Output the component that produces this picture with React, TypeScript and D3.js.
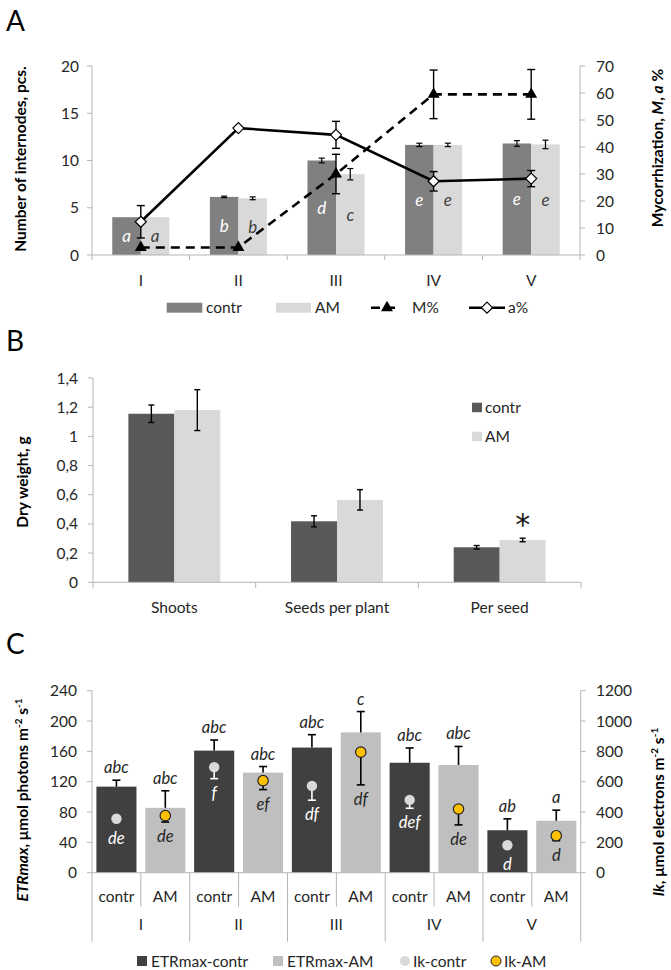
import React from "react";
import * as d3 from "d3";

// ---------- Panel A data ----------
const stages = ["I", "II", "III", "IV", "V"];
const treatments = ["contr", "AM"];
const internodesContr = [4.0, 6.15, 10.0, 11.65, 11.8];
const internodesContrErr = [0, 0.08, 0.25, 0.18, 0.3];
const internodesAM = [4.0, 6.0, 8.55, 11.65, 11.7];
const internodesAMErr = [0, 0.15, 0.6, 0.18, 0.45];
const lettersContrA = ["a", "b", "d", "e", "e"];
const lettersAMA = ["a", "b", "c", "e", "e"];
const mPct = [2.8, 2.8, 30, 59.5, 59.5];
const mPctErr = [0, 0, 7.3, 9, 9.2];
const aPct = [12.3, 47, 44.5, 27.3, 28.3];
const aPctErr = [6, 0, 5, 3.6, 3];
const ticksALeft = [0, 5, 10, 15, 20];
const ticksARight = [0, 10, 20, 30, 40, 50, 60, 70];

// ---------- Panel B data ----------
const organs = ["Shoots", "Seeds per plant", "Per seed"];
const dryContr = [1.155, 0.418, 0.24];
const dryContrErr = [0.06, 0.038, 0.012];
const dryAM = [1.18, 0.565, 0.29];
const dryAMErr = [0.14, 0.07, 0.012];
const drySignif = ["", "", "*"];
const ticksB = [0, 0.2, 0.4, 0.6, 0.8, 1.0, 1.2, 1.4];

// ---------- Panel C data ----------
const etrContr = [113.5, 161, 165, 145, 56];
const etrContrErr = [8.5, 14, 17, 19.5, 15];
const etrAM = [85.5, 132, 185, 142, 68.5];
const etrAMErr = [22.5, 8, 27.5, 24.5, 14];
const ikContr = [356, 696, 572, 480, 181];
const ikContrErr = [0, 76, 94, 55, 0];
const ikAM = [376, 607, 795, 420, 244];
const ikAMErr = [42, 59, 216, 105, 33];
const etrLettersContr = ["abc", "abc", "abc", "abc", "ab"];
const etrLettersAM = ["abc", "abc", "c", "abc", "a"];
const ikLettersContr = ["de", "f", "df", "def", "d"];
const ikLettersAM = ["de", "ef", "df", "de", "d"];
const ticksCLeft = [0, 40, 80, 120, 160, 200, 240];
const ticksCRight = [0, 200, 400, 600, 800, 1000, 1200];

const FONT = "Lato, 'Open Sans', sans-serif";
const AXIS = "#b5b5b5";
const TXT = "#262626";
const FS = 15.5;

function ErrBar({ x, y1, y2, w = 7, color = "#000", sw = 1.3 }: any) {
  return (
    <g stroke={color} strokeWidth={sw}>
      <line x1={x} x2={x} y1={y1} y2={y2} />
      <line x1={x - w / 2} x2={x + w / 2} y1={y1} y2={y1} />
      <line x1={x - w / 2} x2={x + w / 2} y1={y2} y2={y2} />
    </g>
  );
}

function ErrOne({ x, y0, y1, w = 7, color = "#000", sw = 1.3 }: any) {
  return (
    <g stroke={color} strokeWidth={sw}>
      <line x1={x} x2={x} y1={y0} y2={y1} />
      <line x1={x - w / 2} x2={x + w / 2} y1={y1} y2={y1} />
    </g>
  );
}

const diamond = "M0,-5.5L5.5,0L0,5.5L-5.5,0Z";

function PanelA() {
  const x = d3.scaleBand().domain(stages).range([92, 580]).padding(0);
  const bw = x.bandwidth();
  const xi = d3.scaleBand().domain(treatments).range([0, bw]).paddingInner(0).paddingOuter(0.71);
  const y = d3.scaleLinear().domain([0, 20]).range([255, 66]);
  const y2 = d3.scaleLinear().domain([0, 70]).range([255, 66]);
  const cx = (i: number) => (x(stages[i]) as number) + bw / 2;
  const line = d3.line<number>().x((_, i) => cx(i)).y((d) => y2(d));
  const tri = d3.symbol(d3.symbolTriangle, 62)() as string;
  const series = [
    { vals: internodesContr, errs: internodesContrErr, key: "contr", fill: "#808080", letters: lettersContrA, lc: "#ffffff" },
    { vals: internodesAM, errs: internodesAMErr, key: "AM", fill: "#d9d9d9", letters: lettersAMA, lc: "#404040" },
  ];
  const bounds = [...stages.map((s) => x(s) as number), 580];
  return (
    <g fontFamily={FONT}>
      <text x={6} y={31} fontSize={28} fill="#000">A</text>
      {series.map((s) =>
        s.vals.map((v, i) => {
          const bx = (x(stages[i]) as number) + (xi(s.key) as number);
          return (
            <g key={s.key + i}>
              <rect x={bx} y={y(v)} width={xi.bandwidth()} height={y(0) - y(v)} fill={s.fill} />
              {s.errs[i] > 0 && (
                <ErrBar x={bx + xi.bandwidth() / 2} y1={y(v + s.errs[i])} y2={y(v - s.errs[i])} w={6} sw={1.2} />
              )}
              <text x={bx + xi.bandwidth() / 2} y={y(v / 2) + 6} textAnchor="middle" fontStyle="italic" fontSize={17} fill={s.lc}>
                {s.letters[i]}
              </text>
            </g>
          );
        })
      )}
      <line x1={92} x2={580} y1={255} y2={255} stroke={AXIS} />
      {bounds.map((b, i) => (
        <line key={i} x1={b} x2={b} y1={255} y2={260} stroke={AXIS} />
      ))}
      <line x1={92} x2={92} y1={66} y2={255} stroke={AXIS} />
      {ticksALeft.map((t) => (
        <g key={t}>
          <line x1={87} x2={92} y1={y(t)} y2={y(t)} stroke={AXIS} />
          <text x={79} y={y(t) + 5.5} textAnchor="end" fontSize={FS} fill={TXT}>{t}</text>
        </g>
      ))}
      <line x1={580} x2={580} y1={66} y2={255} stroke={AXIS} />
      {ticksARight.map((t) => (
        <g key={t}>
          <line x1={580} x2={585} y1={y2(t)} y2={y2(t)} stroke={AXIS} />
          <text x={596} y={y2(t) + 5.5} textAnchor="start" fontSize={FS} fill={TXT}>{t}</text>
        </g>
      ))}
      {stages.map((s, i) => (
        <text key={s} x={cx(i)} y={285.5} textAnchor="middle" fontSize={FS} fill={TXT}>{s}</text>
      ))}
      <path d={line(mPct) as string} fill="none" stroke="#000" strokeWidth={2.6} strokeDasharray="9,6" />
      {mPct.map((v, i) =>
        mPctErr[i] > 0 ? <ErrBar key={"me" + i} x={cx(i)} y1={y2(v + mPctErr[i])} y2={y2(v - mPctErr[i])} w={8} sw={1.4} /> : null
      )}
      {mPct.map((v, i) => (
        <path key={"mt" + i} d={tri} transform={`translate(${cx(i)},${y2(v)})`} fill="#000" />
      ))}
      <path d={line(aPct) as string} fill="none" stroke="#000" strokeWidth={2.6} />
      {aPct.map((v, i) =>
        aPctErr[i] > 0 ? <ErrBar key={"ae" + i} x={cx(i)} y1={y2(v + aPctErr[i])} y2={y2(v - aPctErr[i])} w={8} sw={1.4} /> : null
      )}
      {aPct.map((v, i) => (
        <path key={"ad" + i} d={diamond} transform={`translate(${cx(i)},${y2(v)})`} fill="#fff" stroke="#000" strokeWidth={1.2} />
      ))}
      <text transform="translate(26,159) rotate(-90)" textAnchor="middle" fontSize={15.5} fontWeight="bold" fill="#000">
        Number of internodes, pcs.
      </text>
      <text transform="translate(663,148) rotate(-90)" textAnchor="middle" fontSize={15.5} fontWeight="bold" fill="#000">
        Mycorrhization, <tspan fontStyle="italic">M</tspan>, <tspan fontStyle="italic">a</tspan> %
      </text>
      <g fontSize={FS} fill={TXT}>
        <rect x={166.7} y={302.7} width={35.6} height={10} fill="#808080" />
        <text x={206} y={313}>contr</text>
        <rect x={276} y={302.7} width={35} height={10} fill="#d9d9d9" />
        <text x={315} y={313}>AM</text>
        <line x1={371} x2={400} y1={307.7} y2={307.7} stroke="#000" strokeWidth={2.6} strokeDasharray="9,6" />
        <path d={tri} transform="translate(387,307.7)" fill="#000" />
        <text x={412} y={313}>M%</text>
        <line x1={469} x2={505} y1={307.7} y2={307.7} stroke="#000" strokeWidth={2.6} />
        <path d={diamond} transform="translate(487,307.7)" fill="#fff" stroke="#000" strokeWidth={1.2} />
        <text x={508} y={313}>a%</text>
      </g>
    </g>
  );
}

function PanelB() {
  const x = d3.scaleBand().domain(organs).range([93, 581]).padding(0);
  const bw = x.bandwidth();
  const xi = d3.scaleBand().domain(treatments).range([0, bw]).paddingInner(0).paddingOuter(0.77);
  const y = d3.scaleLinear().domain([0, 1.4]).range([582.3, 378]);
  const series = [
    { vals: dryContr, errs: dryContrErr, key: "contr", fill: "#595959" },
    { vals: dryAM, errs: dryAMErr, key: "AM", fill: "#d9d9d9" },
  ];
  const bounds = [...organs.map((s) => x(s) as number), 581];
  const fmt = (t: number) => String(Math.round(t * 10) / 10).replace(".", ",");
  return (
    <g fontFamily={FONT}>
      <text x={6} y={351} fontSize={28} fill="#000">B</text>
      {series.map((s) =>
        s.vals.map((v, i) => {
          const bx = (x(organs[i]) as number) + (xi(s.key) as number);
          return (
            <g key={s.key + i}>
              <rect x={bx} y={y(v)} width={xi.bandwidth()} height={y(0) - y(v)} fill={s.fill} />
              <ErrBar x={bx + xi.bandwidth() / 2} y1={y(v + s.errs[i])} y2={y(v - s.errs[i])} w={6} sw={1.4} />
            </g>
          );
        })
      )}
      {drySignif.map((m, i) =>
        m ? (
          <text key={i} x={(x(organs[i]) as number) + (xi("AM") as number) + xi.bandwidth() / 2} y={y(dryAM[i] + dryAMErr[i]) - 3} textAnchor="middle" fontSize={30} fontFamily="'DejaVu Sans', sans-serif" fill="#1a1a1a">
            {m}
          </text>
        ) : null
      )}
      <line x1={93} x2={581} y1={582.3} y2={582.3} stroke={AXIS} />
      {bounds.map((b, i) => (
        <line key={i} x1={b} x2={b} y1={582.3} y2={588} stroke={AXIS} />
      ))}
      <line x1={93} x2={93} y1={378} y2={582.3} stroke={AXIS} />
      {ticksB.map((t) => (
        <g key={t}>
          <line x1={88} x2={93} y1={y(t)} y2={y(t)} stroke={AXIS} />
          <text x={78} y={y(t) + 5.5} textAnchor="end" fontSize={FS} fill={TXT}>{fmt(t)}</text>
        </g>
      ))}
      {organs.map((s) => (
        <text key={s} x={(x(s) as number) + bw / 2} y={613} textAnchor="middle" fontSize={FS} fill={TXT}>{s}</text>
      ))}
      <text transform="translate(28,482) rotate(-90)" textAnchor="middle" fontSize={15.5} fontWeight="bold" fill="#000">
        Dry weight, g
      </text>
      <g fontSize={FS} fill={TXT}>
        <rect x={472} y={402.7} width={10} height={9.5} fill="#595959" />
        <text x={485} y={412.5}>contr</text>
        <rect x={472} y={431.7} width={10} height={9.5} fill="#d9d9d9" />
        <text x={485} y={441.5}>AM</text>
      </g>
    </g>
  );
}

function PanelC() {
  const x = d3.scaleBand().domain(stages).range([92, 580.7]).padding(0);
  const bw = x.bandwidth();
  const xi = d3.scaleBand().domain(treatments).range([0, bw]).paddingInner(0.18).paddingOuter(0.09);
  const y = d3.scaleLinear().domain([0, 240]).range([872.7, 690.7]);
  const y2 = d3.scaleLinear().domain([0, 1200]).range([872.7, 690.7]);
  const series = [
    { key: "contr", etr: etrContr, etrErr: etrContrErr, ik: ikContr, ikErr: ikContrErr, top: etrLettersContr, inner: ikLettersContr, fill: "#404040", dot: "#d9d9d9", dotStroke: "none", ikErrColor: "#ffffff", lc: "#ffffff" },
    { key: "AM", etr: etrAM, etrErr: etrAMErr, ik: ikAM, ikErr: ikAMErr, top: etrLettersAM, inner: ikLettersAM, fill: "#bfbfbf", dot: "#ffc000", dotStroke: "#262626", ikErrColor: "#000", lc: "#262626" },
  ];
  const sepBounds = [...stages.map((s) => x(s) as number), 580.7];
  return (
    <g fontFamily={FONT}>
      <text x={6} y={654} fontSize={28} fill="#000">C</text>
      {series.map((s) =>
        s.etr.map((v, i) => {
          const bx = (x(stages[i]) as number) + (xi(s.key) as number);
          const c = bx + xi.bandwidth() / 2;
          const errTop = y(v + s.etrErr[i]);
          const iy = y2(s.ik[i]);
          const iyEnd = y2(s.ik[i] - s.ikErr[i]);
          const innerY = Math.max(iy + 25, iyEnd + 20);
          return (
            <g key={s.key + i}>
              <rect x={bx} y={y(v)} width={xi.bandwidth()} height={y(0) - y(v)} fill={s.fill} />
              <ErrOne x={c} y0={y(v)} y1={errTop} w={8} sw={1.6} color="#000" />
              <text x={c} y={errTop - 7} textAnchor="middle" fontStyle="italic" fontSize={16.5} fill={TXT}>{s.top[i]}</text>
              {s.ikErr[i] > 0 && <ErrOne x={c} y0={iy} y1={iyEnd} w={8} sw={1.6} color={s.ikErrColor} />}
              <circle cx={c} cy={iy} r={5.2} fill={s.dot} stroke={s.dotStroke} strokeWidth={1.2} />
              <text x={c} y={innerY} textAnchor="middle" fontStyle="italic" fontSize={16.5} fill={s.lc}>{s.inner[i]}</text>
            </g>
          );
        })
      )}
      <line x1={92} x2={580.7} y1={872.7} y2={872.7} stroke={AXIS} />
      {sepBounds.map((b, i) => (
        <line key={"g" + i} x1={b} x2={b} y1={872.7} y2={941.7} stroke={AXIS} />
      ))}
      {stages.map((s) => (
        <line key={"s" + s} x1={(x(s) as number) + bw / 2} x2={(x(s) as number) + bw / 2} y1={872.7} y2={906.7} stroke={AXIS} />
      ))}
      {stages.map((s) =>
        treatments.map((t) => (
          <text key={s + t} x={(x(s) as number) + (xi(t) as number) + xi.bandwidth() / 2} y={902} textAnchor="middle" fontSize={FS} fill={TXT}>
            {t}
          </text>
        ))
      )}
      {stages.map((s) => (
        <text key={"l" + s} x={(x(s) as number) + bw / 2} y={930} textAnchor="middle" fontSize={FS} fill={TXT}>{s}</text>
      ))}
      <line x1={92} x2={92} y1={690.7} y2={872.7} stroke={AXIS} />
      {ticksCLeft.map((t) => (
        <g key={t}>
          <line x1={87} x2={92} y1={y(t)} y2={y(t)} stroke={AXIS} />
          <text x={77} y={y(t) + 5.5} textAnchor="end" fontSize={FS} fill={TXT}>{t}</text>
        </g>
      ))}
      <line x1={580.7} x2={580.7} y1={690.7} y2={872.7} stroke={AXIS} />
      {ticksCRight.map((t) => (
        <g key={t}>
          <line x1={580.7} x2={585.7} y1={y2(t)} y2={y2(t)} stroke={AXIS} />
          <text x={596} y={y2(t) + 5.5} textAnchor="start" fontSize={FS} fill={TXT}>{t}</text>
        </g>
      ))}
      <text transform="translate(28,800) rotate(-90)" textAnchor="middle" fontSize={15.5} fontWeight="bold" fill="#000">
        <tspan fontStyle="italic">ETRmax</tspan>, μmol photons m<tspan dy={-6} fontSize={10}>-2</tspan>
        <tspan dy={6}> s</tspan><tspan dy={-6} fontSize={10}>-1</tspan>
      </text>
      <text transform="translate(664,812) rotate(-90)" textAnchor="middle" fontSize={15.5} fontWeight="bold" fill="#000">
        <tspan fontStyle="italic">Ik</tspan>, μmol electrons m<tspan dy={-6} fontSize={10}>-2</tspan>
        <tspan dy={6}> s</tspan><tspan dy={-6} fontSize={10}>-1</tspan>
      </text>
      <g fontSize={FS} fill={TXT}>
        <rect x={137} y={956} width={10} height={10} fill="#404040" />
        <text x={151} y={966.5}>ETRmax-contr</text>
        <rect x={273} y={956} width={10} height={10} fill="#bfbfbf" />
        <text x={287} y={966.5}>ETRmax-AM</text>
        <circle cx={405} cy={961} r={5} fill="#d9d9d9" />
        <text x={413} y={966.5}>Ik-contr</text>
        <circle cx={496} cy={961} r={5} fill="#ffc000" stroke="#262626" strokeWidth={1} />
        <text x={504} y={966.5}>Ik-AM</text>
      </g>
    </g>
  );
}

export default function App() {
  return (
    <svg width={671} height={970} viewBox="0 0 671 970" style={{ position: "absolute", left: 0, top: 0, background: "#fff" }}>
      <rect width={671} height={970} fill="#fff" />
      <PanelA />
      <PanelB />
      <PanelC />
    </svg>
  );
}
